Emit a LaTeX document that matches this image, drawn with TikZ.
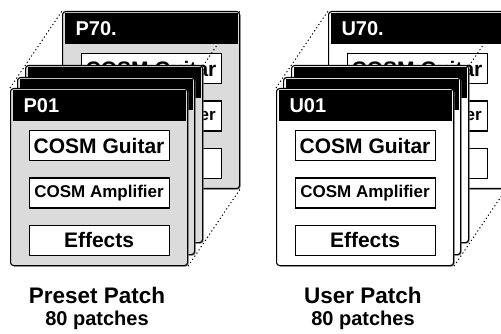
\documentclass[tikz,border=0pt]{standalone}
\usepackage{fontspec}
\setmainfont{Liberation Sans}
\usetikzlibrary{positioning,shadows}
\definecolor{presetgray}{gray}{0.86}
\pgfdeclarelayer{rear}
\pgfdeclarelayer{guide}
\pgfsetlayers{rear,guide,main}

\begin{document}
\begin{tikzpicture}[
  x=1pt, y=-1pt,
  font=\bfseries,
  card/.style={
    draw,
    line width=1.1pt,
    rounded corners=3pt,
    anchor=north west,
    minimum width=177pt,
    minimum height=177pt,
    inner sep=0pt,
    drop shadow={shadow xshift=1pt, shadow yshift=-1pt, fill=black!55, opacity=1}
  },
  bar/.style={
    fill=black,
    text=white,
    inner xsep=11pt,
    inner ysep=0pt,
    text width=151pt,
    minimum height=31pt,
    align=left,
    font=\bfseries\fontsize{20}{24}\selectfont
  },
  slot/.style={
    draw,
    fill=white,
    line width=1.1pt,
    minimum width=140pt,
    minimum height=30pt,
    inner sep=0pt,
    font=\bfseries\fontsize{21}{24}\selectfont
  },
  guideline/.style={line width=1pt, dash pattern=on 1.2pt off 2.6pt},
  caption/.style={font=\bfseries\fontsize{22.5}{26}\selectfont},
  count/.style={font=\bfseries\fontsize{20}{24}\selectfont}
]
\useasboundingbox (0,0) rectangle (501,334);

\foreach \dx/\tone/\first/\last/\kind in {0/presetgray/P01/P70./Preset, 266/white/U01/U70./User}{
  % last patch, far back
  \begin{pgfonlayer}{rear}
    \node[card,fill=\tone] (back) at (62+\dx,11) {};
    \node[bar,below=2pt of back.north] (backbar) {\last};
    \node[slot,below=9pt of backbar] (backguitar) {COSM Guitar};
    \node[slot,below=16pt of backguitar,font=\bfseries\fontsize{17}{20}\selectfont] (backamp) {COSM Amplifier};
    \node[slot,below=16pt of backamp] (backfx) {Effects};
  \end{pgfonlayer}
  % stack in between
  \node[card,fill=\tone] (mid2) at (25+\dx,65) {};
  \node[bar,below=2pt of mid2.north] (mid2bar) {};
  \node[card,fill=\tone] (mid1) at (17+\dx,77) {};
  \node[bar,below=2pt of mid1.north] (mid1bar) {};
  % first patch
  \node[card,fill=\tone] (front) at (10+\dx,88) {};
  \node[bar,below=2pt of front.north] (frontbar) {\first};
  \node[slot,below=9pt of frontbar] (frontguitar) {COSM Guitar};
  \node[slot,below=16pt of frontguitar,font=\bfseries\fontsize{17}{20}\selectfont] (frontamp) {COSM Amplifier};
  \node[slot,below=16pt of frontamp] (frontfx) {Effects};
  \begin{pgfonlayer}{guide}
    \draw[guideline] (front.north west) -- (back.north west);
    \draw[guideline] (front.north east) -- (back.north east);
    \draw[guideline] (front.south east) -- (back.south east);
  \end{pgfonlayer}
  \node[caption] (\kind caption) at (97+\dx,295) {\kind\ Patch};
  \node[count] (\kind count) at (97+\dx,320) {80 patches};
}
\end{tikzpicture}
\end{document}
